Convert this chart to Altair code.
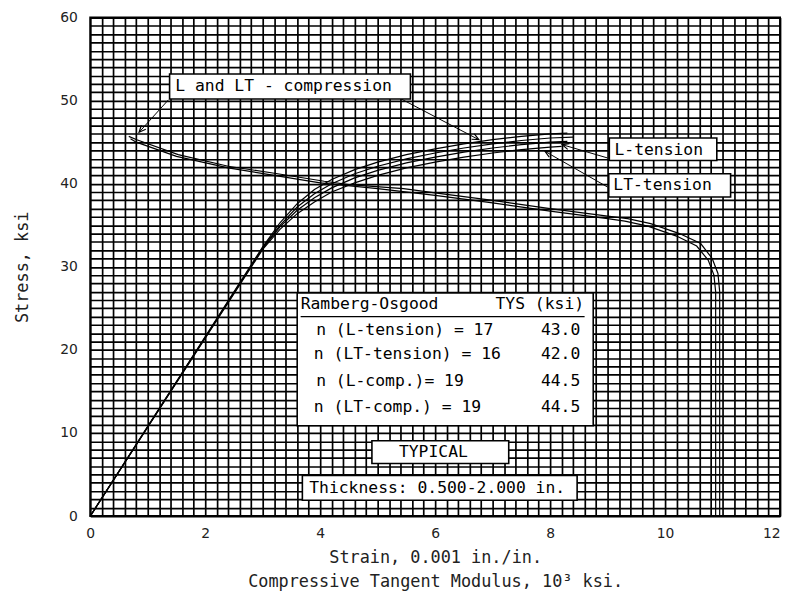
import math
import altair as alt
import pandas as pd

# ---------------- data ----------------
# Stress-strain curves: strain (0.001 in./in.) vs stress (ksi)
l_comp_strain = [0, 3.0, 3.3, 3.6, 3.9, 4.2, 4.6, 5.0, 5.5, 6.0, 6.5, 7.0, 7.5, 8.0, 8.3]
l_comp_stress = [0, 32.4, 35.3, 37.6, 39.3, 40.5, 41.7, 42.6, 43.5, 44.2, 44.8, 45.3, 45.7, 46.0, 46.1]

lt_comp_strain = [0, 3.0, 3.3, 3.6, 3.9, 4.2, 4.6, 5.0, 5.5, 6.0, 6.5, 7.0, 7.5, 8.0, 8.4]
lt_comp_stress = [0, 32.3, 35.0, 37.2, 38.8, 40.0, 41.2, 42.1, 43.0, 43.7, 44.3, 44.8, 45.2, 45.5, 45.6]

l_ten_strain = [0, 3.0, 3.3, 3.6, 3.9, 4.2, 4.6, 5.0, 5.5, 6.0, 6.5, 7.0, 7.5, 8.0, 8.3]
l_ten_stress = [0, 32.2, 34.8, 36.8, 38.3, 39.5, 40.7, 41.6, 42.5, 43.2, 43.8, 44.3, 44.7, 45.0, 45.1]

lt_ten_strain = [0, 3.0, 3.3, 3.6, 3.9, 4.2, 4.6, 5.0, 5.5, 6.0, 6.5, 7.0, 7.5, 8.0, 8.2]
lt_ten_stress = [0, 32.1, 34.5, 36.4, 37.8, 39.0, 40.1, 41.0, 41.9, 42.6, 43.2, 43.7, 44.1, 44.4, 44.5]

# Compressive tangent modulus curves: modulus (10^3 ksi) vs stress (ksi)
l_tan_mod = [10.95, 10.95, 10.92, 10.82, 10.62, 10.25, 9.75, 9.35, 9.0, 8.0, 7.0, 6.0, 5.45, 4.5, 4.07, 3.26, 2.4, 1.53, 0.81, 0.67]
l_tan_stress = [0, 27.0, 29.2, 31.0, 32.8, 34.0, 35.2, 35.8, 36.1, 37.0, 38.0, 38.9, 39.4, 39.9, 40.3, 41.2, 42.1, 43.5, 45.3, 45.7]

lt_tan_mod = [10.88, 10.88, 10.85, 10.75, 10.55, 10.2, 9.7, 9.3, 9.0, 8.0, 7.0, 6.0, 5.0, 4.0, 3.2, 2.4, 1.5, 0.8, 0.7]
lt_tan_stress = [0, 27.0, 29.0, 30.8, 32.5, 33.7, 34.9, 35.5, 35.8, 36.7, 37.7, 38.6, 39.4, 40.1, 41.0, 41.9, 43.3, 45.0, 45.4]

# Table contents
table_header = ["Ramberg-Osgood", "TYS (ksi)"]
table_labels = ["n (L-tension) = 17", "n (LT-tension) = 16", "n (L-comp.)= 19", "n (LT-comp.) = 19"]
table_tys = ["43.0", "42.0", "44.5", "44.5"]

# ---------------- build tables ----------------
series = [
    ("L-comp", l_comp_strain, l_comp_stress),
    ("LT-comp", lt_comp_strain, lt_comp_stress),
    ("L-tension", l_ten_strain, l_ten_stress),
    ("LT-tension", lt_ten_strain, lt_ten_stress),
    ("L-tangent", l_tan_mod, l_tan_stress),
    ("LT-tangent", lt_tan_mod, lt_tan_stress),
]
rows = []
for name, xs, ys in series:
    for i, (a, b) in enumerate(zip(xs, ys)):
        rows.append({"series": name, "i": i, "x": a, "y": b})
curves_df = pd.DataFrame(rows)

# layout (annotation boxes, texts, arrows) in axis units
boxes_df = pd.DataFrame([
    {"x": 1.38, "x2": 5.57, "y": 50.2, "y2": 53.2},
    {"x": 9.03, "x2": 10.9, "y": 42.8, "y2": 45.5},
    {"x": 9.02, "x2": 11.14, "y": 38.4, "y2": 41.2},
    {"x": 3.6, "x2": 8.75, "y": 10.86, "y2": 26.85},
    {"x": 4.9, "x2": 7.28, "y": 6.32, "y2": 9.07},
    {"x": 3.69, "x2": 8.47, "y": 1.91, "y2": 4.89},
])

row_y = [22.4, 19.45, 16.2, 13.1]
row_x = [3.93, 3.89, 3.93, 3.89]
texts = [
    ("L and LT - compression", 1.48, 51.7),
    ("L-tension", 9.12, 44.1),
    ("LT-tension", 9.10, 39.8),
    (table_header[0], 3.66, 25.5),
    (table_header[1], 7.05, 25.5),
    ("TYPICAL", 5.37, 7.7),
    ("Thickness: 0.500-2.000 in.", 3.81, 3.4),
]
for lab, val, yy, xx in zip(table_labels, table_tys, row_y, row_x):
    texts.append((lab, xx, yy))
    texts.append((val, 7.84, yy))
texts_df = pd.DataFrame(texts, columns=["text", "x", "y"])

underline_df = pd.DataFrame([{"x": 3.66, "x2": 8.6, "y": 24.0}])

XPX, YPX = 696 / 12.0, 503 / 60.0
arrows = [
    (1.36, 50.1, 0.85, 46.2),
    (5.41, 50.2, 6.76, 45.3),
    (9.0, 43.1, 8.21, 44.7),
    (9.0, 39.6, 7.91, 43.9),
]
arrow_rows = []
for xs, ys, xe, ye in arrows:
    ang = math.degrees(math.atan2((xe - xs) * XPX, (ye - ys) * YPX)) % 360
    arrow_rows.append({"x": xs, "y": ys, "x2": xe, "y2": ye, "angle": ang})
arrows_df = pd.DataFrame(arrow_rows)

# ---------------- chart ----------------
FONT = "DejaVu Sans Mono"
xs_scale = alt.Scale(domain=[0, 12], nice=False, zero=False)
ys_scale = alt.Scale(domain=[0, 60], nice=False, zero=False)

x_grid = [round(i * 0.2, 1) for i in range(61)]
y_grid = list(range(61))

x_axis = alt.Axis(
    values=x_grid, grid=True, gridColor="#000000", gridWidth=1.7, gridOpacity=1,
    ticks=False, domain=False, labelFlush=False, labelOverlap=False,
    labelExpr="abs(datum.value % 2) < 0.001 ? format(datum.value, 'd') : ''",
    labelAlign={"condition": {"test": "datum.value >= 11.9", "value": "right"}, "value": "center"},
    labelFont="DejaVu Sans", labelFontSize=14, labelColor="#222222", labelPadding=11,
    title=["Strain, 0.001 in./in.", "Compressive Tangent Modulus, 10³ ksi."],
    titleFont=FONT, titleFontSize=17, titleFontWeight="normal", titleColor="#222222",
    titleY=47, titleBaseline="alphabetic", titleLineHeight=24,
)
y_axis = alt.Axis(
    values=y_grid, grid=True, gridColor="#000000", gridWidth=1.7, gridOpacity=1,
    ticks=False, domain=False, labelOverlap=False,
    labelExpr="datum.value % 10 == 0 ? format(datum.value, 'd') : ''",
    labelFont="DejaVu Sans", labelFontSize=14, labelColor="#222222", labelPadding=13,
    title="Stress, ksi", titleFont=FONT, titleFontSize=17, titleFontWeight="normal",
    titleColor="#222222", titleX=-68, titleY=251.5, titleAngle=270,
    titleAlign="center", titleBaseline="middle",
)


def X(field):
    return alt.X(field, scale=xs_scale, axis=x_axis)


def Y(field):
    return alt.Y(field, scale=ys_scale, axis=y_axis)


curves = alt.Chart(curves_df).mark_line(color="black", strokeWidth=1.2).encode(
    x=X("x:Q"), y=Y("y:Q"), detail="series:N", order="i:Q",
)

arrow_lines = alt.Chart(arrows_df).mark_rule(color="black", strokeWidth=1).encode(
    x=X("x:Q"), y=Y("y:Q"), x2="x2:Q", y2="y2:Q",
)
arrow_heads = alt.Chart(arrows_df).mark_point(
    shape="M-0.45,1L0,0L0.45,1", filled=False, color="black", strokeWidth=1.2,
    size=180, opacity=1,
).encode(
    x=X("x2:Q"), y=Y("y2:Q"), angle=alt.Angle("angle:Q", scale=None),
)

box_layer = alt.Chart(boxes_df).mark_rect(fill="white", stroke="black", strokeWidth=1.6).encode(
    x=X("x:Q"), x2="x2:Q", y=Y("y:Q"), y2="y2:Q",
)

underline = alt.Chart(underline_df).mark_rule(color="black", strokeWidth=1.2).encode(
    x=X("x:Q"), x2="x2:Q", y=Y("y:Q"),
)

text_layer = alt.Chart(texts_df).mark_text(
    font=FONT, fontSize=16.5, align="left", baseline="middle", color="black",
).encode(
    x=X("x:Q"), y=Y("y:Q"), text="text:N",
)

chart = alt.layer(
    curves, arrow_lines, arrow_heads, box_layer, underline, text_layer
).properties(
    width=696, height=503,
    padding={"left": 83, "top": 7, "right": 4, "bottom": 76},
    autosize=alt.AutoSizeParams(type="none"),
    background="white",
).configure_view(stroke="black", strokeWidth=2)

chart.save("out.html", embed_options={"renderer": "svg", "actions": False})
